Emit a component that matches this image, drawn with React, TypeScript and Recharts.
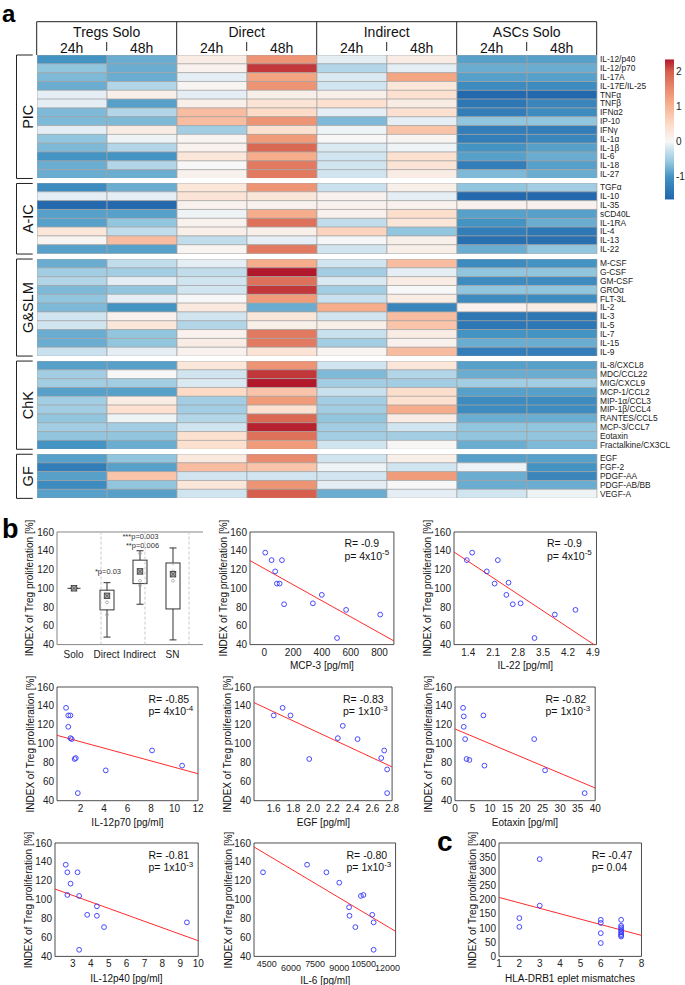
import React from 'react';
import {
  BarChart, Bar, XAxis, YAxis, Cell, ScatterChart, Scatter,
  ReferenceLine, ReferenceArea, ComposedChart,
} from 'recharts';

const FONT = '"Liberation Sans", Arial, Helvetica, sans-serif';

// ---------------- Heatmap data ----------------
const conditionLabels = ['Tregs Solo', 'Direct', 'Indirect', 'ASCs Solo'];
const timeLabels = ['24h', '48h'];
const groupLabels = ['PIC', 'A-IC', 'G&SLM', 'ChK', 'GF'];

const picNames = ['IL-12/p40', 'IL-12/p70', 'IL-17A', 'IL-17E/IL-25', 'TNFα', 'TNFβ', 'IFNα2', 'IP-10', 'IFNγ', 'IL-1α', 'IL-1β', 'IL-6', 'IL-18', 'IL-27'];
const picValues = [
  [-1.0, -0.8, 0.2, 1.4, -0.1, 0.2, -0.9, -0.9],
  [-0.6, -0.8, 0.1, 2.2, -0.4, -0.1, -0.8, -0.8],
  [-0.7, -0.8, -0.1, 1.2, -0.15, 1.2, -0.9, -0.9],
  [-0.8, -0.4, 0.05, 1.4, -0.2, 0.3, -1.1, -1.1],
  [-0.1, 0.15, -0.1, 0.15, 0.15, 0.4, -1.6, -1.6],
  [-0.1, -0.9, 0.15, 0.35, 0.4, 0.2, -1.4, -1.2],
  [-0.7, -0.4, 0.9, 0.5, -0.1, 0.4, -1.3, -1.1],
  [-0.7, -0.7, 0.9, 1.4, -0.7, -0.1, -0.6, -0.6],
  [-0.1, 0.2, -0.5, 0.4, -0.05, 0.8, -1.3, -1.3],
  [-0.6, -0.05, 0.05, 1.3, 0.0, 0.05, -1.3, -1.2],
  [-0.7, -0.4, 0.1, 1.9, -0.15, -0.05, -1.0, -0.9],
  [-1.0, -1.0, 0.3, 1.1, -0.2, 0.4, -0.9, -0.8],
  [-0.8, -0.4, 0.0, 1.7, -0.2, 0.35, -1.3, -0.9],
  [-0.8, -0.8, 0.1, 1.7, -0.2, 0.2, -0.7, -0.8],
];

const aicNames = ['TGFα', 'IL-10', 'IL-35', 'sCD40L', 'IL-1RA', 'IL-4', 'IL-13', 'IL-22'];
const aicValues = [
  [-1.1, -0.8, 0.3, 1.4, -0.25, 0.15, -0.6, -0.5],
  [-0.1, -0.1, 0.35, 0.3, 0.1, -0.1, -1.6, -1.6],
  [-1.6, -1.6, 0.1, 0.1, 0.1, 0.1, 0.1, 0.1],
  [-0.9, -0.9, -0.05, 1.1, 0.1, 0.45, -0.9, -0.9],
  [-0.9, -0.6, 0.1, 1.8, -0.3, 0.3, -1.0, -0.8],
  [0.3, -0.3, 0.15, 0.15, 0.6, -0.6, -1.3, -1.4],
  [0.05, 0.9, -0.3, -0.1, -0.02, 0.15, -1.5, -1.5],
  [-0.9, -0.9, 0.05, 1.7, -0.2, 0.15, -0.8, -0.6],
];

const gslmNames = ['M-CSF', 'G-CSF', 'GM-CSF', 'GROα', 'FLT-3L', 'IL-2', 'IL-3', 'IL-5', 'IL-7', 'IL-15', 'IL-9'];
const gslmValues = [
  [-0.8, -0.3, -0.1, 1.1, -0.2, 0.9, -1.1, -1.0],
  [-0.5, -0.5, -0.3, 2.4, -0.5, -0.1, -0.6, -0.6],
  [-0.4, -0.1, -0.2, 1.8, -0.15, 0.2, -1.1, -1.1],
  [-0.7, -0.6, -0.2, 2.2, -0.5, 0.0, -0.6, -0.6],
  [-0.6, -0.1, 0.0, 1.3, -0.25, 0.2, -1.1, -1.1],
  [-0.7, -1.0, 0.25, -0.8, 1.1, -1.2, 0.1, 0.2],
  [-0.2, 0.1, -0.2, 0.3, -0.2, 0.9, -1.4, -1.4],
  [-0.2, 0.3, -0.4, 0.15, 0.15, 0.8, -1.4, -1.4],
  [-0.8, -0.6, 0.1, 1.7, -0.25, 0.2, -1.0, -1.0],
  [-0.8, -0.6, 0.2, 1.7, -0.5, 0.1, -0.8, -0.8],
  [-0.25, -0.1, 0.1, 0.35, 0.05, 0.9, -1.3, -1.3],
];

const chkNames = ['IL-8/CXCL8', 'MDC/CCL22', 'MIG/CXCL9', 'MCP-1/CCL2', 'MIP-1α/CCL3', 'MIP-1β/CCL4', 'RANTES/CCL5', 'MCP-3/CCL7', 'Eotaxin', 'Fractalkine/CX3CL'];
const chkValues = [
  [-0.9, -0.9, 0.3, 1.4, -0.2, 0.3, -0.9, -0.9],
  [-0.5, 0.0, -0.2, 2.2, -0.7, -0.4, -0.8, -0.8],
  [-0.5, -0.5, -0.15, 2.4, -0.5, -0.5, -0.5, -0.5],
  [-0.9, -0.9, 0.5, 0.8, -0.25, 0.45, -0.9, -0.9],
  [-0.5, 0.2, -0.5, 1.3, -0.5, 0.4, -1.1, -1.1],
  [-0.5, 0.4, -0.5, 0.4, -0.5, 1.1, -1.1, -1.1],
  [-0.6, -0.05, -0.4, 1.9, -0.6, 0.2, -0.8, -0.8],
  [-0.5, -0.5, -0.2, 2.3, -0.5, -0.2, -0.6, -0.6],
  [-0.6, -0.6, 0.4, 1.8, -0.5, -0.5, -0.6, -0.6],
  [-1.0, -0.8, 0.4, 1.3, -0.2, 0.02, -0.8, -0.7],
];

const gfNames = ['EGF', 'FGF-2', 'PDGF-AA', 'PDGF-AB/BB', 'VEGF-A'];
const gfValues = [
  [-0.9, -0.6, 0.25, 1.5, -0.2, 0.15, -0.9, -0.9],
  [-1.3, -0.9, 0.9, 0.8, -0.05, -0.2, -0.05, -1.0],
  [-0.9, 0.8, -0.2, -0.2, -0.2, 1.3, -0.8, -1.2],
  [-1.1, -0.6, 0.3, 1.4, -0.1, 0.0, -0.8, -0.8],
  [-0.9, -0.9, -0.2, 2.0, -0.8, -0.1, -0.2, -0.05],
];

const colorbarTicks = [2, 1, 0, -1];

// ---------------- Box plot data ----------------
const boxCats = ['Solo', 'Direct', 'Indirect', 'SN'];
const boxMin = [100, 48, 83, 45];
const boxQ1 = [100, 77, 105, 78];
const boxQ3 = [100, 98, 130, 127];
const boxMax = [100, 106, 140, 143];
const boxMean = [100, 92, 118, 115];
const boxDots = [[], [85, 72], [137, 108, 103], [127, 118, 108]];

// ---------------- Scatter data ----------------
const mcp3X = [6, 50, 75, 87, 106, 122, 137, 337, 399, 505, 568, 805];
const mcp3Y = [138, 130, 118, 105, 105, 130, 83, 84, 93, 47, 77, 72];
const mcp3Fit = [-100, 129.5, 900, 43.9];

const il22X = [1.36, 1.51, 1.92, 2.14, 2.23, 2.47, 2.53, 2.65, 2.87, 3.26, 3.83, 4.41];
const il22Y = [130, 138, 118, 105, 130, 93, 106, 83, 84, 47, 72, 77];
const il22Fit = [1.0, 138.7, 4.93, 40];

const il12p70X = [0.77, 0.96, 1.14, 0.96, 1.14, 1.25, 1.5, 1.6, 1.77, 4.15, 8.09, 10.65];
const il12p70Y = [138, 130, 130, 118, 106, 105, 84, 85, 48, 72, 93, 77];
const il12p70Fit = [0, 109, 12, 68.5];

const egfX = [1.6, 1.69, 1.77, 1.96, 2.25, 2.3, 2.45, 2.69, 2.72, 2.75, 2.75];
const egfY = [130, 138, 130, 84, 106, 119, 105, 85, 93, 73, 48];
const egfFit = [1.4, 143.5, 2.8, 75.6];

const eotaxinX = [2.3, 2.5, 2.5, 2.9, 3.3, 4.1, 8.1, 8.4, 22.6, 25.7, 37];
const eotaxinY = [138, 129, 118, 105, 84, 83, 130, 77, 105, 72, 48];
const eotaxinFit = [0, 115.7, 40, 53.4];

const il12p40X = [2.6, 2.69, 2.87, 2.69, 3.26, 3.35, 3.8, 4.34, 4.34, 4.74, 3.35, 9.37];
const il12p40Y = [137, 129, 117, 105, 129, 104, 84, 93, 83, 71, 47, 76];
const il12p40Fit = [2, 111.3, 10, 56.6];

const il6X = [4260, 7000, 8200, 9000, 9610, 9635, 10000, 10345, 10500, 11050, 11135, 11135];
const il6Y = [129, 137, 129, 118, 92, 83, 71, 104, 105, 84, 76, 47];
const il6Fit = [3700, 155.8, 12500, 66.5];

const hlaX = [2, 2, 3, 3, 6, 6, 6, 6, 7, 7, 7, 7, 7, 7, 7, 7, 7];
const hlaY = [135, 104, 343, 179, 129, 118, 82, 47, 129, 108, 102, 96, 90, 85, 79, 74, 70];
const hlaFit = [1, 208, 8, 74];

const treg160Ticks = [40, 60, 80, 100, 120, 140, 160];
const hlaYTicks = [0, 50, 100, 150, 200, 250, 300, 350, 400];

// ---------------- Colour scale ----------------
const STOPS: [number, string][] = [
  [-1.65, '#2166ac'], [-1.0, '#4393c3'], [-0.6, '#92c5de'], [-0.2, '#d1e5f0'],
  [0, '#f7f7f7'], [0.5, '#fddbc7'], [1.2, '#f4a582'], [2.0, '#d6604d'], [2.35, '#b2182b'],
];
function hexRgb(h: string) {
  return [parseInt(h.slice(1, 3), 16), parseInt(h.slice(3, 5), 16), parseInt(h.slice(5, 7), 16)];
}
function colorFor(v: number): string {
  if (v <= STOPS[0][0]) return STOPS[0][1];
  for (let i = 1; i < STOPS.length; i++) {
    const [v0, c0] = STOPS[i - 1];
    const [v1, c1] = STOPS[i];
    if (v <= v1) {
      const t = (v - v0) / (v1 - v0);
      const a = hexRgb(c0), b = hexRgb(c1);
      const m = a.map((x, k) => Math.round(x + (b[k] - x) * t));
      return `rgb(${m[0]},${m[1]},${m[2]})`;
    }
  }
  return STOPS[STOPS.length - 1][1];
}

// ---------------- Layout constants ----------------
const HM_LEFT = 36.7;
const HM_W = 560;
const HM_TOP = 55;
const ROW_H = 8.82;
const GROUP_GAP = 5;
const COLS = ['c0', 'c1', 'c2', 'c3', 'c4', 'c5', 'c6', 'c7'];
const LABEL_W = 80;

const groups = [
  { names: picNames, values: picValues },
  { names: aicNames, values: aicValues },
  { names: gslmNames, values: gslmValues },
  { names: chkNames, values: chkValues },
  { names: gfNames, values: gfValues },
];
const groupTops: number[] = [];
{
  let t = HM_TOP;
  groups.forEach((g) => { groupTops.push(t); t += g.names.length * ROW_H + GROUP_GAP; });
}

function HeatGroup({ names, values, top }: any) {
  const data = names.map((n: string) => {
    const o: any = { name: n };
    COLS.forEach((k) => { o[k] = 1; });
    return o;
  });
  const h = names.length * ROW_H;
  return (
    <div style={{ position: 'absolute', left: HM_LEFT, top }}>
      <BarChart layout="vertical" width={HM_W + LABEL_W} height={h} data={data}
        margin={{ top: 0, right: 0, bottom: 0, left: 0 }} barCategoryGap={0} barGap={0}>
        <XAxis type="number" domain={[0, 8]} hide />
        <YAxis type="category" dataKey="name" orientation="right" width={LABEL_W}
          tickLine={false} axisLine={false} tickSize={0} tickMargin={3} interval={0}
          tick={{ fontSize: 8.4, fill: '#222' }} />
        {COLS.map((k, ci) => (
          <Bar key={k} dataKey={k} stackId="s" isAnimationActive={false}
            stroke="#a3a3a3" strokeWidth={0.7}>
            {values.map((row: number[], ri: number) => (
              <Cell key={ri} fill={colorFor(row[ci])} />
            ))}
          </Bar>
        ))}
      </BarChart>
    </div>
  );
}

// ---------------- Box plot ----------------
const BOX = { L: 57.3, R: 189.3, T: 531.7, B: 644.3 };
const boxData = boxCats.map((c, i) => ({
  name: c,
  range: boxMin[i] === boxMax[i] ? [boxMin[i] - 0.5, boxMax[i] + 0.5] : [boxMin[i], boxMax[i]],
  min: boxMin[i], q1: boxQ1[i], q3: boxQ3[i], max: boxMax[i], mean: boxMean[i], dots: boxDots[i],
}));

function BoxShape(props: any) {
  const { x, y, width, height, index } = props;
  const p = props.payload && props.payload.range ? props.payload : boxData[index];
  const [lo, hi] = p.range;
  const top = Math.min(y, y + height);
  const bot = Math.max(y, y + height);
  const px = (v: number) => bot - ((v - lo) / (hi - lo)) * (bot - top);
  const cx = x + width / 2;
  const bw = 14, cw = 7, ms = 5.5;
  const col = '#333';
  return (
    <g>
      <line x1={cx} x2={cx} y1={px(p.max)} y2={px(p.min)} stroke={col} strokeWidth={1} />
      <line x1={cx - cw / 2} x2={cx + cw / 2} y1={px(p.max)} y2={px(p.max)} stroke={col} strokeWidth={1} />
      <line x1={cx - cw / 2} x2={cx + cw / 2} y1={px(p.min)} y2={px(p.min)} stroke={col} strokeWidth={1} />
      <rect x={cx - bw / 2} width={bw} y={px(p.q3)} height={Math.max(0, px(p.q1) - px(p.q3))}
        fill="#fff" stroke={col} strokeWidth={1} />
      {p.q1 === p.q3 && (
        <line x1={cx - bw / 2 + 0.5} x2={cx + bw / 2 - 0.5} y1={px(p.q1)} y2={px(p.q1)} stroke={col} strokeWidth={1} />
      )}
      {p.dots.map((d: number, k: number) => (
        <circle key={k} cx={cx} cy={px(d)} r={1.4} fill="none" stroke="#999" strokeWidth={0.7} />
      ))}
      <rect x={cx - ms / 2} y={px(p.mean) - ms / 2} width={ms} height={ms} fill="#aaa" stroke={col} strokeWidth={0.8} />
      <line x1={cx - ms / 2} y1={px(p.mean) - ms / 2} x2={cx + ms / 2} y2={px(p.mean) + ms / 2} stroke={col} strokeWidth={0.6} />
      <line x1={cx + ms / 2} y1={px(p.mean) - ms / 2} x2={cx - ms / 2} y2={px(p.mean) + ms / 2} stroke={col} strokeWidth={0.6} />
    </g>
  );
}

function BoxPanel() {
  const YW = 34, MT = 8, MR = 14, XH = 20;
  const { L, R, T, B } = BOX;
  return (
    <div style={{ position: 'absolute', left: L - YW, top: T - MT }}>
      <ComposedChart width={R - L + YW + MR} height={B - T + MT + XH} data={boxData}
        margin={{ top: MT, right: MR, bottom: 0, left: 0 }}>
        <XAxis xAxisId="c" dataKey="name" type="category" height={XH} tickLine={false} axisLine={false}
          tickSize={0} tickMargin={6} interval={0} tick={{ fontSize: 10, fill: '#222' }} />
        <XAxis xAxisId="n" type="number" domain={[0, 4]} hide allowDataOverflow />
        <YAxis type="number" domain={[40, 160]} ticks={treg160Ticks} width={YW} allowDataOverflow
          tickLine={false} axisLine={false} tickSize={0} tickMargin={3} interval={0}
          tick={{ fontSize: 10, fill: '#222' }} />
        {[1, 2, 3].map((v) => (
          <ReferenceLine key={v} xAxisId="n" x={v} stroke="#bbb" strokeDasharray="3 2" strokeWidth={0.8} />
        ))}
        <ReferenceArea xAxisId="n" x1={0} x2={4} y1={40} y2={160} fill="none" fillOpacity={0}
          stroke="#777" strokeWidth={0.9} ifOverflow="visible" />
        <Bar xAxisId="c" dataKey="range" barSize={14} isAnimationActive={false} shape={BoxShape} />
      </ComposedChart>
    </div>
  );
}

// ---------------- Scatter panels ----------------
const fmt1 = (v: number) => v.toFixed(1);
const panels = [
  { key: 'mcp3', L: 250, R: 393.9, T: 531.7, B: 644.3, xs: mcp3X, ys: mcp3Y, fit: mcp3Fit,
    xDomain: [-100, 900], xTicks: [0, 200, 400, 600, 800], yDomain: [40, 160], yTicks: treg160Ticks,
    xLabel: 'MCP-3 [pg/ml]', r: 'R= -0.9', p: ['p= 4x10', '-5'] },
  { key: 'il22', L: 454, R: 596.5, T: 531.7, B: 644.3, xs: il22X, ys: il22Y, fit: il22Fit,
    xDomain: [1.0, 5.0], xTicks: [1.4, 2.1, 2.8, 3.5, 4.2, 4.9], fmt: fmt1, yDomain: [40, 160], yTicks: treg160Ticks,
    xLabel: 'IL-22 [pg/ml]', r: 'R= -0.9', p: ['p= 4x10', '-5'] },
  { key: 'il12p70', L: 57, R: 198, T: 687.3, B: 801, xs: il12p70X, ys: il12p70Y, fit: il12p70Fit,
    xDomain: [0, 12], xTicks: [2, 4, 6, 8, 10, 12], yDomain: [40, 160], yTicks: treg160Ticks,
    xLabel: 'IL-12p70 [pg/ml]', r: 'R= -0.85', p: ['p= 4x10', '-4'] },
  { key: 'egf', L: 254.4, R: 392.5, T: 687.3, B: 801, xs: egfX, ys: egfY, fit: egfFit,
    xDomain: [1.4, 2.8], xTicks: [1.6, 1.8, 2.0, 2.2, 2.4, 2.6, 2.8], fmt: fmt1, yDomain: [40, 160], yTicks: treg160Ticks,
    xLabel: 'EGF [pg/ml]', r: 'R= -0.83', p: ['p= 1x10', '-3'] },
  { key: 'eotaxin', L: 454.8, R: 595, T: 687.3, B: 801, xs: eotaxinX, ys: eotaxinY, fit: eotaxinFit,
    xDomain: [0, 40], xTicks: [0, 5, 10, 15, 20, 25, 30, 35, 40], yDomain: [40, 160], yTicks: treg160Ticks,
    xLabel: 'Eotaxin [pg/ml]', r: 'R= -0.82', p: ['p= 1x10', '-3'] },
  { key: 'il12p40', L: 54.8, R: 198, T: 843.3, B: 956.7, xs: il12p40X, ys: il12p40Y, fit: il12p40Fit,
    xDomain: [2, 10], xTicks: [3, 4, 5, 6, 7, 8, 9, 10], yDomain: [40, 160], yTicks: treg160Ticks,
    xLabel: 'IL-12p40 [pg/ml]', r: 'R= -0.81', p: ['p= 1x10', '-3'] },
  { key: 'il6', L: 254.4, R: 396, T: 843.3, B: 956.7, xs: il6X, ys: il6Y, fit: il6Fit,
    xDomain: [3700, 12500], xTicks: [4500, 6000, 7500, 9000, 10500, 12000], stagger: true, yDomain: [40, 160], yTicks: treg160Ticks,
    xLabel: 'IL-6 [pg/ml]', titleDy: 2.5, r: 'R= -0.80', p: ['p= 1x10', '-3'] },
  { key: 'hla', L: 498.7, R: 641.2, T: 843.3, B: 956.7, xs: hlaX, ys: hlaY, fit: hlaFit,
    xDomain: [1, 8], xTicks: [1, 2, 3, 4, 5, 6, 7, 8], yDomain: [0, 400], yTicks: hlaYTicks,
    xLabel: 'HLA-DRB1 eplet mismatches', r: 'R= -0.47', p: ['p= 0.04', ''] },
];

const circleShape = (p: any) => (
  <circle cx={p.cx} cy={p.cy} r={2.4} fill="none" stroke="#3535ff" strokeWidth={0.9} />
);

function ScatterPanel({ cfg }: any) {
  const { L, T, R, B, xDomain, xTicks, yDomain, yTicks, xs, ys, fit, fmt, stagger } = cfg;
  const YW = 34, MT = 8, MR = 14, XH = 22;
  const data = xs.map((x: number, i: number) => ({ x, y: ys[i] }));
  const staggerTick = (tp: any) => {
    const v = tp.payload.value;
    const odd = Math.round((v - xTicks[0]) / (xTicks[1] - xTicks[0])) % 2 === 1;
    return (
      <text x={tp.x} y={tp.y + (odd ? 11 : 7)} textAnchor="middle" fontSize={9} fill="#222">{v}</text>
    );
  };
  return (
    <div style={{ position: 'absolute', left: L - YW, top: T - MT }}>
      <ScatterChart width={R - L + YW + MR} height={B - T + MT + XH}
        margin={{ top: MT, right: MR, bottom: 0, left: 0 }}>
        <XAxis type="number" dataKey="x" domain={xDomain} ticks={xTicks} allowDataOverflow height={XH}
          tickLine={false} axisLine={false} tickSize={0} tickMargin={4} interval={0}
          tick={stagger ? staggerTick : { fontSize: 10, fill: '#222' }}
          tickFormatter={fmt} />
        <YAxis type="number" dataKey="y" domain={yDomain} ticks={yTicks} allowDataOverflow width={YW}
          tickLine={false} axisLine={false} tickSize={0} tickMargin={3} interval={0}
          tick={{ fontSize: 10, fill: '#222' }} />
        <ReferenceArea x1={xDomain[0]} x2={xDomain[1]} y1={yDomain[0]} y2={yDomain[1]}
          fill="none" fillOpacity={0} stroke="#222" strokeWidth={0.8} ifOverflow="visible" />
        <ReferenceLine segment={[{ x: fit[0], y: fit[1] }, { x: fit[2], y: fit[3] }]}
          stroke="#ff2a2a" strokeWidth={1} ifOverflow="visible" />
        <Scatter data={data} isAnimationActive={false} shape={circleShape} />
      </ScatterChart>
    </div>
  );
}

// ---------------- Overlay (titles, header, legend) ----------------
const YLABEL = 'INDEX of Treg proliferation [%]';

function Overlay() {
  const hmRight = HM_LEFT + HM_W;
  const colW = HM_W / 8;
  const cbTop = 59.45, cbH = 140, cbX = 665, cbW = 9;
  const cbMax = 2.35, cbMin = -1.65;
  const cbY = (v: number) => cbTop + ((cbMax - v) / (cbMax - cbMin)) * cbH;
  const yLabels = [
    { x: BOX.L - 28, T: BOX.T, B: BOX.B },
    ...panels.map((p) => ({ x: p.L - 26.5, T: p.T, B: p.B })),
  ];
  return (
    <svg width={685} height={985} style={{ position: 'absolute', left: 0, top: 0, pointerEvents: 'none' }}
      fontFamily={FONT}>
      <defs>
        <linearGradient id="cbgrad" x1="0" y1="0" x2="0" y2="1">
          {STOPS.slice().reverse().map(([v, c], i) => (
            <stop key={i} offset={(cbMax - v) / (cbMax - cbMin)} stopColor={c} />
          ))}
        </linearGradient>
      </defs>
      {/* panel letters */}
      <text x={2} y={21.8} fontSize={24} fontWeight="bold" fill="#000">a</text>
      <text x={2} y={538} fontSize={27} fontWeight="bold" fill="#000">b</text>
      <text x={437} y={851} fontSize={28} fontWeight="bold" fill="#000">c</text>

      {/* heatmap header */}
      <line x1={HM_LEFT} x2={hmRight} y1={21.7} y2={21.7} stroke="#222" strokeWidth={1} />
      {[0, 1, 2, 3, 4].map((i) => (
        <line key={i} x1={HM_LEFT + i * 2 * colW} x2={HM_LEFT + i * 2 * colW} y1={21.7} y2={55} stroke="#222" strokeWidth={1} />
      ))}
      {conditionLabels.map((c, i) => (
        <g key={c}>
          <text x={HM_LEFT + (i * 2 + 1) * colW} y={37} fontSize={14} textAnchor="middle" fill="#111">{c}</text>
          <line x1={HM_LEFT + (i * 2 + 1) * colW} x2={HM_LEFT + (i * 2 + 1) * colW} y1={42} y2={51} stroke="#222" strokeWidth={1} />
          {timeLabels.map((t, k) => (
            <text key={t} x={HM_LEFT + (i * 2 + k + 0.5) * colW} y={52.5} fontSize={14} textAnchor="middle" fill="#111">{t}</text>
          ))}
        </g>
      ))}

      {/* group brackets */}
      {groups.map((g, i) => {
        const t = groupTops[i];
        const b = t + g.names.length * ROW_H;
        const mid = (t + b) / 2;
        return (
          <g key={i}>
            <path d={`M 32.7 ${t} H 16.5 V ${b} H 32.7`} fill="none" stroke="#222" strokeWidth={1} />
            <text x={32.8} y={mid} fontSize={14.5} textAnchor="middle" fill="#111"
              transform={`rotate(-90 32.8 ${mid})`}>{groupLabels[i]}</text>
          </g>
        );
      })}

      {/* colour bar */}
      <rect x={cbX} y={cbTop} width={cbW} height={cbH} fill="url(#cbgrad)" />
      {colorbarTicks.map((v) => (
        <text key={v} x={676} y={cbY(v) + 3.6} fontSize={10} fill="#222">{v}</text>
      ))}

      {/* y axis titles */}
      {yLabels.map((l, i) => {
        const cy = (l.T + l.B) / 2;
        const bx = l.x + 3.6;
        return (
          <text key={i} x={bx} y={cy} fontSize={10} textAnchor="middle" fill="#111"
            transform={`rotate(-90 ${bx} ${cy})`}>{YLABEL}</text>
        );
      })}

      {/* x axis titles and stats */}
      {panels.map((p: any) => (
        <g key={p.key}>
          <text x={(p.L + p.R) / 2} y={p.B + 25 + (p.titleDy || 0)} fontSize={10} textAnchor="middle" fill="#111">{p.xLabel}</text>
          <text x={p.R - 49.5} y={p.T + 15.6} fontSize={10.5} fill="#111">{p.r}</text>
          <text x={p.R - 49.5} y={p.T + 28} fontSize={10.5} fill="#111">
            {p.p[0]}
            {p.p[1] && <tspan fontSize={8} dy={-4.5}>{p.p[1]}</tspan>}
          </text>
        </g>
      ))}

      {/* box plot p-values */}
      <text x={108} y={574.3} fontSize={7.5} textAnchor="middle" fill="#333">*p=0.03</text>
      <text x={140.5} y={538.6} fontSize={7.5} textAnchor="middle" fill="#333">***p=0.003</text>
      <text x={142.5} y={547.6} fontSize={7.5} textAnchor="middle" fill="#333">**p=0.006</text>
    </svg>
  );
}

export default function App() {
  return (
    <div style={{ position: 'absolute', left: 0, top: 0, width: 685, height: 985, background: '#fff',
      fontFamily: FONT, overflow: 'hidden' }}>
      {groups.map((g, i) => (
        <HeatGroup key={i} names={g.names} values={g.values} top={groupTops[i]} />
      ))}
      <BoxPanel />
      {panels.map((p) => <ScatterPanel key={p.key} cfg={p} />)}
      <Overlay />
    </div>
  );
}
